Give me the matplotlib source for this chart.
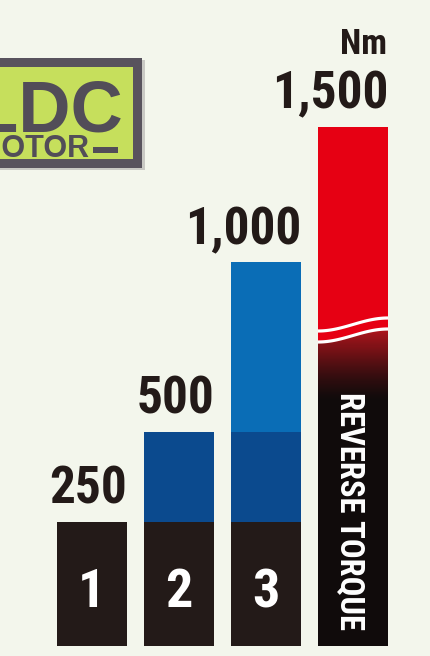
import numpy as np
import matplotlib.pyplot as plt
from matplotlib import font_manager
from matplotlib.patches import Rectangle, Polygon
from matplotlib.transforms import blended_transform_factory

# Data.
types = ['1', '2', '3']
torque = [250, 500, 1000]
torque_labels = ['250', '500', '1,000']
reverse_torque = 1500
reverse_label = '1,500'
reverse_text = 'REVERSE TORQUE'
unit = 'Nm'
tier_edges = [0, 250, 500, 1000]

# Colours.
bg = '#f3f6ec'
tier_colors = ['#231a18', '#0b4a8e', '#0a6db6']
red = '#e60013'
badge_fill = '#c6df5c'
badge_edge = '#58535d'
ink = '#231a18'

# Pick a condensed bold face if one is around.
names = {f.name for f in font_manager.fontManager.ttflist}
narrow = next((n for n in ['Liberation Sans Narrow', 'Roboto Condensed', 'DejaVu Sans'] if n in names), 'DejaVu Sans')
plain = 'Liberation Sans' if 'Liberation Sans' in names else 'DejaVu Sans'

# The picture uses a broken axis: the top part is squeezed.
knot_val = [0, 250, 500, 1000, 1500, 2500]
knot_px = [0, 124, 214, 384, 519, 789]


def fwd(v):
    return np.interp(v, knot_val, knot_px)


def inv(p):
    return np.interp(p, knot_px, knot_val)


W, H = 431, 656
fig = plt.figure(figsize=(W / 100, H / 100), dpi=100, facecolor=bg)

ax = fig.add_axes([0, 10 / H, 1, 646 / H])
ax.set_yscale('function', functions=(fwd, inv))
ax.set_ylim(0, inv(646))
spacing = 87
ax.set_xlim(-92 / spacing, (W - 92) / spacing)
ax.set_facecolor('none')
ax.axis('off')
width = 70 / spacing

# Overlay in image pixel coordinates for the decorations.
deco = fig.add_axes([0, 0, 1, 1], zorder=3)
deco.set_xlim(0, W)
deco.set_ylim(H, 0)
deco.axis('off')
deco.patch.set_alpha(0)
deco.set_autoscale_on(False)

# Stacked type bars.
for i, t in enumerate(torque):
    for k in range(len(tier_edges) - 1):
        lo, hi = tier_edges[k], tier_edges[k + 1]
        if hi <= t:
            ax.bar(i, hi - lo, bottom=lo, width=width, color=tier_colors[k], linewidth=0)
    ax.annotate(torque_labels[i], (i + width / 2, t), xytext=(0, 18), textcoords='offset pixels',
                ha='right', va='baseline', fontsize=37, fontweight='bold', family=narrow, color=ink)
    ax.annotate(types[i], (i, 0), xytext=(0, 39), textcoords='offset pixels',
                ha='center', va='baseline', fontsize=39, fontweight='bold', family=narrow, color='white')

# Reverse torque bar.
rx = len(torque)
ax.bar(rx, reverse_torque, width=width, color=red, linewidth=0)
ax.annotate(reverse_label, (rx + width / 2, reverse_torque), xytext=(0, 19), textcoords='offset pixels',
            ha='right', va='baseline', fontsize=37, fontweight='bold', family=narrow, color=ink)
ax.annotate(unit, (rx + width / 2, reverse_torque), xytext=(-1, 73), textcoords='offset pixels',
            ha='right', va='baseline', fontsize=25, fontweight='bold', family=narrow, color=ink)

blend = blended_transform_factory(ax.transData, deco.transData)
x0 = rx - width / 2

# Dark bottom and red-to-black fade.
deco.add_patch(Rectangle((x0, 400), width, 246, transform=blend, color='#100b0b', lw=0, zorder=2))
top_c = np.array([0.70, 0.08, 0.11])
bot_c = np.array([0.063, 0.043, 0.043])
steps = 70
for j in range(steps):
    f = j / (steps - 1)
    y = 328 + j * (400 - 328) / steps
    g = (1 - f) ** 1.3
    deco.add_patch(Rectangle((x0, y), width, (400 - 328) / steps + 0.6, transform=blend,
                             color=top_c * g + bot_c * (1 - g), lw=0, zorder=2))

# Break mark: two white waves over a red band.
t = np.linspace(0, 1, 60)
xs = x0 + t * width
y_up = 324.5 + 6.5 * np.cos(np.pi * t)
y_lo = y_up + 11


def band(y_top, y_bot, color, z):
    pts = np.column_stack([np.r_[xs, xs[::-1]], np.r_[y_top, y_bot[::-1]]])
    deco.add_patch(Polygon(pts, closed=True, transform=blend, facecolor=color,
                           edgecolor='none', lw=0, zorder=z))


band(np.full_like(t, 305.0), y_lo, red, 3)
band(y_up - 1.6, y_up + 1.6, 'white', 4)
band(y_lo - 1.6, y_lo + 1.6, 'white', 4)

deco.text(rx - 0.03, 511, reverse_text, transform=blend, rotation=-90,
          ha='center', va='center', fontsize=23.5, fontweight='bold', family=narrow, color='white',
          zorder=5)

# Cropped BLDC MOTOR badge.
deco.add_patch(Rectangle((-10, 60), 155, 110, color='#c9c9c4', lw=0, zorder=1))
deco.add_patch(Rectangle((-10, 58), 152, 110, color=badge_edge, lw=0, zorder=1))
deco.add_patch(Rectangle((-10, 67), 143, 92, color=badge_fill, lw=0, zorder=1))
deco.text(123, 131, 'BLDC', ha='right', va='baseline', fontsize=52, fontweight='bold',
          family=plain, color='#524d58', zorder=2)
deco.text(89, 157, 'MOTOR', ha='right', va='baseline', fontsize=22, fontweight='bold',
          family=plain, color='#524d58', zorder=2)
deco.add_patch(Rectangle((93, 147), 25, 6, color='#524d58', lw=0, zorder=2))

fig.savefig('out.png', dpi=100, facecolor=bg)
